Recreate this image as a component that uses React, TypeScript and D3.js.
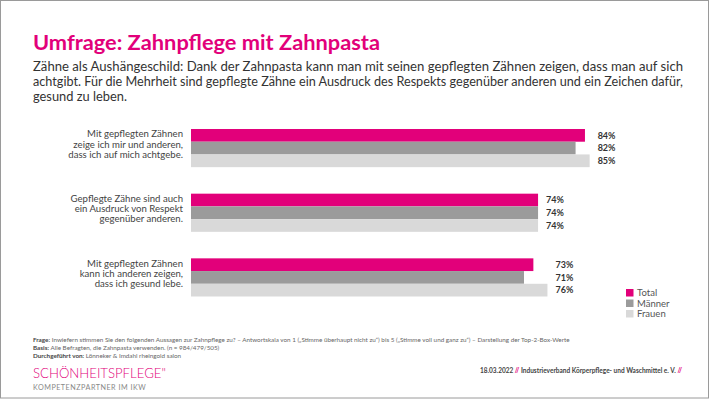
import React from "react";
import * as d3 from "d3";

const categories = [
  ["Mit gepflegten Zähnen", "zeige ich mir und anderen,", "dass ich auf mich achtgebe."],
  ["Gepflegte Zähne sind auch", "ein Ausdruck von Respekt", "gegenüber anderen."],
  ["Mit gepflegten Zähnen", "kann ich anderen zeigen,", "dass ich gesund lebe."],
];
const seriesNames = ["Total", "Männer", "Frauen"];
const total = [84, 74, 73];
const maenner = [82, 74, 71];
const frauen = [85, 74, 76];
const colors = ["#e2007a", "#9b9b9b", "#d9d9d9"];

const title = "Umfrage: Zahnpflege mit Zahnpasta";
const subtitle = [
  "Zähne als Aushängeschild: Dank der Zahnpasta kann man mit seinen gepflegten Zähnen zeigen, dass man auf sich",
  "achtgibt. Für die Mehrheit sind gepflegte Zähne ein Ausdruck des Respekts gegenüber anderen und ein Zeichen dafür,",
  "gesund zu leben.",
];
const subtitleWidths = [650, 650, 94];

const FONT = "Lato, 'Open Sans', sans-serif";

export default function App() {
  const W = 710, H = 399;
  const values = [total, maenner, frauen];
  const x = d3.scaleLinear().domain([0, 100]).range([191, 660]);
  const y = d3.scaleBand<number>().domain(d3.range(categories.length)).range([129, 296.5]).paddingInner(0.41).paddingOuter(0);
  const ys = d3.scaleBand<number>().domain(d3.range(seriesNames.length)).range([0, y.bandwidth()]).padding(0);

  return (
    <svg width={W} height={H} style={{ position: "fixed", left: 0, top: 0, background: "#fff" }} fontFamily={FONT}>
      <rect x={0.5} y={0.5} width={W - 2} height={H - 1.5} fill="#fff" stroke="#9a9a9a" strokeWidth={1} />
      <text x={33} y={50} fill="#e2007a" fontSize={20} fontWeight={700} textLength={347} lengthAdjust="spacingAndGlyphs">{title}</text>
      {subtitle.map((s, i) => (
        <text key={i} x={33} y={71 + i * 15} fill="#333" fontSize={12.5} textLength={subtitleWidths[i]} lengthAdjust="spacingAndGlyphs">{s}</text>
      ))}
      {categories.map((lines, gi) => {
        const g0 = y(gi)!;
        const mid = g0 + y.bandwidth() / 2;
        const maxV = d3.max(values, (v) => v[gi])!;
        return (
          <g key={gi}>
            {lines.map((l, li) => (
              <text key={li} x={183} y={mid + (li - 1) * 10.2 - 0.5} textAnchor="end" fontSize={9.6} fill="#444">{l}</text>
            ))}
            {values.map((v, si) => (
              <g key={si}>
                <rect x={x(0)} y={g0 + ys(si)!} width={x(v[gi]) - x(0)} height={ys.bandwidth()} fill={colors[si]} />
                <text x={x(maxV) + 8} y={g0 + ys(si)! + ys.bandwidth() / 2 + 3.2} fontSize={9} fontWeight={700} fill="#333">{v[gi]}%</text>
              </g>
            ))}
          </g>
        );
      })}
      {seriesNames.map((n, i) => (
        <g key={n}>
          <rect x={626} y={289 + i * 10.5} width={7.5} height={7.5} fill={colors[i]} />
          <text x={637} y={296 + i * 10.5} fontSize={9.5} fill="#555">{n}</text>
        </g>
      ))}
      <g fontSize={6.3} fill="#666">
        <text x={33} y={342}><tspan fontWeight={700} fill="#444">Frage:</tspan> Inwiefern stimmen Sie den folgenden Aussagen zur Zahnpflege zu? – Antwortskala von 1 („Stimme überhaupt nicht zu“) bis 5 („Stimme voll und ganz zu“) – Darstellung der Top-2-Box-Werte</text>
        <text x={33} y={350}><tspan fontWeight={700} fill="#444">Basis:</tspan> Alle Befragten, die Zahnpasta verwenden. (n = 984/479/505)</text>
        <text x={33} y={358}><tspan fontWeight={700} fill="#444">Durchgeführt von:</tspan> Lönneker &amp; Imdahl rheingold salon</text>
      </g>
      <text x={33} y={378} fontSize={14.5} fill="#e2007a" fontWeight={300} textLength={133} lengthAdjust="spacingAndGlyphs">SCHÖNHEITSPFLEGE"</text>
      <text x={33} y={390} fontSize={7.2} fill="#888" letterSpacing={0.5}>KOMPETENZPARTNER IM IKW</text>
      <text x={480} y={373} fontSize={6.5} fill="#444" fontWeight={700}>
        18.03.2022 <tspan fill="#e2007a">//</tspan> Industrieverband Körperpflege- und Waschmittel e. V. <tspan fill="#e2007a">//</tspan>
      </text>
    </svg>
  );
}
